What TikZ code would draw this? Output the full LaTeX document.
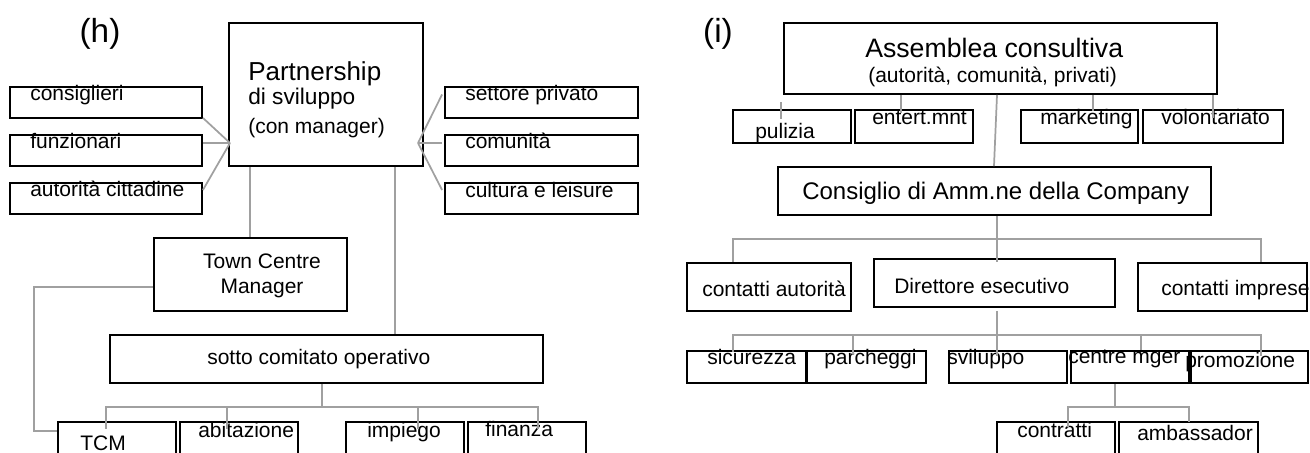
\documentclass[tikz,border=0pt]{standalone}
\usepackage{fontspec}
\setmainfont{Liberation Sans}
\usepackage{tikz}
\usetikzlibrary{fit}
\definecolor{linegray}{RGB}{160,160,160}

\begin{document}
\begin{tikzpicture}
  [x=0.75pt, y=-0.75pt,
   box/.style={draw, line width=1.4pt, inner sep=0pt},
   conn/.style={draw=linegray, line width=1.3pt},
   lbl/.style={inner sep=0pt, anchor=base west,
     font=\fontsize{15.75}{18}\selectfont},
   big/.style={lbl, font=\fontsize{19.5}{22}\selectfont},
   tag/.style={inner sep=0pt, anchor=base,
     font=\fontsize{25}{28}\selectfont},
  ]
  \useasboundingbox (0,0) rectangle (1310,453);
  \clip (0,0) rectangle (1310,453);

  % (h) partnership
  \node[tag] (tagh) at (100,43) {(h)};
  \node[box, fit={(229,23) (423,166)}] (part) {};
  \node[big] (tpart1) at (248,80) {Partnership};
  \node[lbl, font=\fontsize{17}{20}\selectfont] (tpart2) at (248,104) {di sviluppo};
  \node[lbl] (tpart3) at (248,133) {(con manager)};

  \node[box, fit={(10,87) (202,118)}] (cons) {};
  \node[box, fit={(10,135) (202,166)}] (funz) {};
  \node[box, fit={(10,183) (202,214)}] (autc) {};
  \node[lbl] (tcons) at (30,100) {consiglieri};
  \node[lbl] (tfunz) at (30,148) {funzionari};
  \node[lbl] (tautc) at (30,196) {autorità cittadine};

  \node[box, fit={(445,87) (638,118)}] (sett) {};
  \node[box, fit={(445,135) (638,166)}] (comu) {};
  \node[box, fit={(445,183) (638,214)}] (cult) {};
  \node[lbl] (tsett) at (465,100) {settore privato};
  \node[lbl] (tcomu) at (465,148) {comunità};
  \node[lbl] (tcult) at (465,197) {cultura e leisure};

  \node[box, fit={(154,238) (347,311)}] (tcman) {};
  \node[lbl, anchor=base] (ttcman1) at (262,268) {Town Centre};
  \node[lbl, anchor=base] (ttcman2) at (262,293) {Manager};

  \node[box, fit={(110,335) (543,383)}] (sotto) {};
  \node[lbl] (tsotto) at (207,364) {sotto comitato operativo};

  \node[box, fit={(58,422) (176,470)}] (tcm) {};
  \node[box, fit={(180,422) (298,470)}] (abit) {};
  \node[box, fit={(346,422) (464,470)}] (impi) {};
  \node[box, fit={(468,422) (586,470)}] (fina) {};
  \node[lbl] (ttcm) at (80,450) {TCM};
  \node[lbl] (tabit) at (198,437) {abitazione};
  \node[lbl] (timpi) at (367,437) {impiego};
  \node[lbl] (tfina) at (485,436) {finanza};

  \coordinate (hubL) at (230,143);
  \coordinate (hubR) at (418,143);
  \draw[conn] ([yshift=0.75pt]cons.south east) -- (hubL);
  \draw[conn] (funz.east |- hubL) -- (hubL);
  \draw[conn] ([yshift=6.4pt]autc.east) -- (hubL);
  \draw[conn] (hubR) -- ([xshift=-1.5pt, yshift=6pt]sett.west);
  \draw[conn] (hubR) -- ([xshift=-1.5pt]comu.west |- hubR);
  \draw[conn] (hubR) -- ([xshift=-1.5pt, yshift=6.4pt]cult.west);

  \draw[conn] (part.south -| 250,0) -- (tcman.north -| 250,0);
  \draw[conn] (part.south -| 395,0) -- (sotto.north -| 395,0);
  \draw[conn] (tcman.west |- 0,287) -- (34,287) |- (tcm.west |- 0,431);

  \coordinate (busL) at (322,407);
  \draw[conn] (sotto.south -| 322,0) -- (busL);
  \foreach \x/\n in {106/tcm, 227/abit, 418/impi, 538/fina}
    \draw[conn] (busL) -| (\n.north -| \x,0) -- ++(0,8);

  % (i) company
  \node[tag] (tagi) at (718,43) {(i)};
  \node[box, fit={(784,23) (1217,94)}] (assem) {};
  \node[lbl, font=\fontsize{20}{23}\selectfont] (tassem1) at (865,58) {Assemblea consultiva};
  \node[lbl] (tassem2) at (868,83) {(autorità, comunità, privati)};

  \node[box, fit={(733,110) (851,143)}] (puli) {};
  \node[box, fit={(855,110) (973,143)}] (ente) {};
  \node[box, fit={(1021,110) (1138,143)}] (mark) {};
  \node[box, fit={(1143,110) (1283,143)}] (volo) {};
  \node[lbl] (tpuli) at (755,138) {pulizia};
  \node[lbl] (tente) at (872,124) {entert.mnt};
  \node[lbl] (tmark) at (1040,124) {marketing};
  \node[lbl] (tvolo) at (1161,124) {volontariato};

  \node[box, fit={(778,167) (1211,215)}] (consi) {};
  \node[lbl, font=\fontsize{18}{21}\selectfont] (tconsi) at (802,199) {Consiglio di Amm.ne della Company};

  \node[box, fit={(687,263) (851,311)}] (caut) {};
  \node[box, fit={(874,259) (1115,307)}] (dire) {};
  \node[box, fit={(1138,263) (1307,311)}] (cimp) {};
  \node[lbl] (tcaut) at (702,296) {contatti autorità};
  \node[lbl] (tdire) at (894,293) {Direttore esecutivo};
  \node[lbl] (tcimp) at (1161,295) {contatti imprese};

  \node[box, fit={(687,351) (806,383)}] (sicu) {};
  \node[box, fit={(807,351) (926,383)}] (parc) {};
  \node[box, fit={(949,351) (1067,383)}] (svil) {};
  \node[box, fit={(1071,351) (1189,383)}] (cmger) {};
  \node[box, fit={(1191,351) (1308,383)}] (prom) {};
  \node[lbl] (tsicu) at (707,364) {sicurezza};
  \node[lbl] (tparc) at (824,364) {parcheggi};
  \node[lbl] (tsvil) at (947,364) {sviluppo};
  \node[lbl] (tcmger) at (1068,363) {centre mger};
  \node[lbl] (tprom) at (1185,367) {promozione};

  \node[box, fit={(997,422) (1115,470)}] (contr) {};
  \node[box, fit={(1119,422) (1258,470)}] (amba) {};
  \node[lbl] (tcontr) at (1017,437) {contratti};
  \node[lbl] (tamba) at (1137,440) {ambassador};

  \draw[conn] (puli.north -| 781,0) ++(0,-7) -- ++(0,17);
  \draw[conn] (assem.south -| 901,0) -- ++(0,18);
  \draw[conn] (assem.south -| 1093,0) -- ++(0,16);
  \draw[conn] (assem.south -| 1213,0) -- ++(0,23);
  \draw[conn] (assem.south -| 997,0) -- (consi.north -| 994,0);

  \coordinate (busA) at (997,239);
  \draw[conn] (consi.south -| 997,0) -- (dire.north -| 997,0) -- ++(0,4);
  \draw[conn] (busA) -| (caut.north -| 733,0);
  \draw[conn] (busA) -| (cimp.north -| 1261,0);

  \coordinate (busB) at (997,335);
  \draw[conn] (dire.south -| 997,0) ++(0,3) -- (busB);
  \foreach \x/\n/\d in {733/sicu/2, 853/parc/4, 997/svil/6, 1141/cmger/0, 1261/prom/6}
    \draw[conn] (busB) -| (\n.north -| \x,0) -- ++(0,\d);

  \coordinate (busC) at (1115,407);
  \draw[conn] (cmger.south -| 1115,0) -- (busC);
  \draw[conn] (busC) -| (contr.north -| 1068,0) -- ++(0,6);
  \draw[conn] (busC) -| (amba.north -| 1189,0) -- ++(0,1);
\end{tikzpicture}
\end{document}
